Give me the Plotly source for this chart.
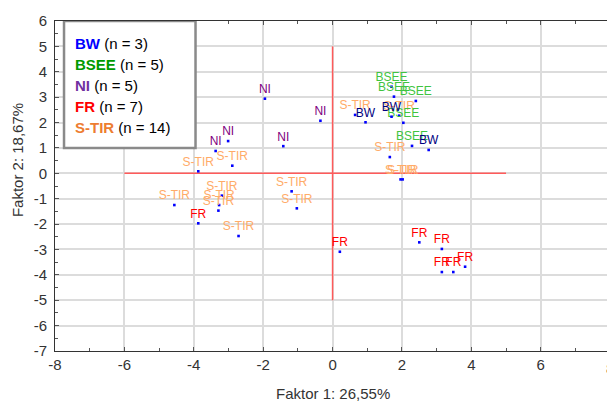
import plotly.graph_objects as go

# Factor scores (Faktor 1, Faktor 2) per sample group
groups = ["BW", "BSEE", "NI", "FR", "S-TIR"]

bw_x = [0.95, 1.70, 2.77]
bw_y = [2.01, 2.23, 0.92]

bsee_x = [1.70, 1.77, 2.40, 2.04, 2.29]
bsee_y = [3.41, 3.02, 2.85, 1.99, 1.08]

ni_x = [-1.95, -0.35, -3.01, -3.37, -1.42]
ni_y = [2.94, 2.07, 1.27, 0.88, 1.07]

fr_x = [-3.87, 0.21, 2.50, 3.15, 3.15, 3.48, 3.82]
fr_y = [-1.97, -3.09, -2.72, -2.98, -3.89, -3.89, -3.68]

stir_x = [0.65, 1.92, 1.65, 1.96, 2.02, -3.87, -2.89, -1.18, -1.03, -4.56, -3.19, -3.27, -3.29, -2.71]
stir_y = [2.30, 2.27, 0.64, -0.24, -0.24, 0.08, 0.30, -0.71, -1.38, -1.25, -0.88, -1.25, -1.47, -2.47]

x_ticks = [-8, -6, -4, -2, 0, 2, 4, 6, 8]
y_ticks = [-7, -6, -5, -4, -3, -2, -1, 0, 1, 2, 3, 4, 5, 6]
x_title = "Faktor 1: 26,55%"
y_title = "Faktor 2: 18,67%"

data = {
    "BW": (bw_x, bw_y),
    "BSEE": (bsee_x, bsee_y),
    "NI": (ni_x, ni_y),
    "FR": (fr_x, fr_y),
    "S-TIR": (stir_x, stir_y),
}

# point-label colours and legend colours
label_colors = {"BW": "#000080", "BSEE": "#3fc43f", "NI": "#800080",
                "FR": "#ff0000", "S-TIR": "#ffab68"}
legend_colors = {"BW": "#0000ff", "BSEE": "#009a00", "NI": "#7030a0",
                 "FR": "#ff0000", "S-TIR": "#ed7d31"}

FONT = "Arial, Liberation Sans, sans-serif"

fig = go.Figure()

# draw order: S-TIR first, BW last (on top)
for g in ["S-TIR", "FR", "NI", "BSEE", "BW"]:
    xs, ys = data[g]
    fig.add_trace(go.Scatter(
        x=xs, y=ys, mode="markers+text",
        text=[g] * len(xs), textposition="top center",
        textfont=dict(family=FONT, size=12, color=label_colors[g]),
        marker=dict(symbol="square", size=2.6, color="#0000ff", line=dict(width=0)),
        cliponaxis=False, hoverinfo="skip", name=g,
    ))

x_max = 7.91

shapes = [
    # reference cross
    dict(type="line", xref="x", yref="y", x0=-6, x1=5, y0=0, y1=0,
         line=dict(color="#ff5a5a", width=1.5), layer="between"),
    dict(type="line", xref="x", yref="y", x0=0, x1=0, y0=-5, y1=5,
         line=dict(color="#ff5a5a", width=1.5), layer="between"),
    # legend frame
    dict(type="rect", xref="x", yref="y", x0=-7.74, x1=-3.95, y0=1.0, y1=6.0,
         line=dict(color="#8a8a8a", width=2.5), fillcolor="white", layer="above"),
]

annotations = []
for i, g in enumerate(groups):
    n = len(data[g][0])
    annotations.append(dict(
        xref="x", yref="y", x=-7.49, y=5.13 - i * 0.83,
        xanchor="left", yanchor="middle", showarrow=False,
        text=f"<b><span style='color:{legend_colors[g]}'>{g}</span></b> (n = {n})",
        font=dict(family=FONT, size=15, color="#000000"),
    ))

# last x tick label sits on the window edge
annotations.append(dict(
    xref="paper", yref="paper", x=(x_ticks[-1] - x_ticks[0]) / (x_max - x_ticks[0]),
    y=0, yshift=-7, xanchor="center", yanchor="top", showarrow=False,
    text=str(x_ticks[-1]), font=dict(family=FONT, size=15, color="#333333"),
))

annotations.append(dict(
    xref="x", yref="paper", x=0, y=0, yshift=-32, xanchor="center", yanchor="top",
    showarrow=False, text=x_title, font=dict(family=FONT, size=15, color="#333333"),
))
annotations.append(dict(
    xref="paper", yref="y", x=0, xshift=-38, y=0.52, xanchor="center", yanchor="middle",
    textangle=-90, showarrow=False, text=y_title,
    font=dict(family=FONT, size=15, color="#333333"),
))

fig.update_layout(
    width=607, height=401,
    margin=dict(l=55, r=0, t=21, b=50),
    plot_bgcolor="white", paper_bgcolor="white",
    showlegend=False,
    font=dict(family=FONT, size=15, color="#333333"),
    shapes=shapes, annotations=annotations,
)

fig.update_xaxes(
    range=[x_ticks[0], x_max], tickmode="array", tickvals=x_ticks[:-1],
    ticktext=[str(v) for v in x_ticks[:-1]],
    showgrid=True, gridcolor="#dcdcdc", gridwidth=1.5, zeroline=False,
    ticks="inside", ticklen=4, tickcolor="#555555",
    showline=True, linecolor="#333333", linewidth=1, mirror="allticks",
    minor=dict(tickmode="linear", tick0=-8, dtick=1, ticks="inside", ticklen=3,
               tickcolor="#555555", showgrid=False),
    tickfont=dict(family=FONT, size=15, color="#333333"),
)
fig.update_yaxes(
    range=[y_ticks[0], y_ticks[-1]], tickmode="array", tickvals=y_ticks,
    ticktext=[str(v) for v in y_ticks], ticklabelstandoff=4,
    showgrid=True, gridcolor="#dcdcdc", gridwidth=1.5, zeroline=False,
    ticks="inside", ticklen=4, tickcolor="#555555",
    showline=True, linecolor="#333333", linewidth=1, mirror=False,
    minor=dict(tickmode="linear", tick0=0, dtick=0.5, ticks="inside", ticklen=3,
               tickcolor="#555555", showgrid=False),
    tickfont=dict(family=FONT, size=15, color="#333333"),
)

fig.write_html("out.html")
